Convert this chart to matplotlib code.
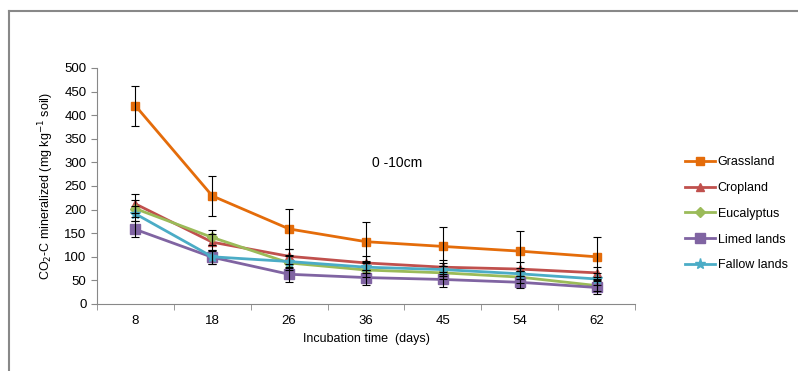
import numpy as np
import matplotlib.pyplot as plt
from matplotlib.lines import Line2D

plt.rcParams['font.family'] = ['Liberation Sans Narrow', 'Liberation Sans', 'DejaVu Sans']

# Datos
days = ["8", "18", "26", "36", "45", "54", "62"]
grassland = [420, 229, 159, 132, 122, 112, 100]
cropland = [212, 131, 101, 87, 78, 74, 66]
eucalyptus = [202, 141, 87, 72, 66, 57, 39]
limed = [158, 99, 63, 56, 52, 46, 35]
fallow = [191, 100, 90, 78, 73, 64, 53]

grassland_err = [42, 42, 42, 42, 42, 42, 42]
cropland_err = [20, 18, 16, 15, 15, 14, 13]
eucalyptus_err = [18, 16, 15, 14, 14, 13, 12]
limed_err = [17, 15, 16, 15, 15, 13, 13]
fallow_err = [16, 15, 14, 13, 13, 12, 12]

series = [
    ("Grassland", grassland, grassland_err, "#E46C0A", "s", 6),
    ("Cropland", cropland, cropland_err, "#C0504D", "^", 6),
    ("Eucalyptus", eucalyptus, eucalyptus_err, "#9BBB59", "D", 5),
    ("Limed lands", limed, limed_err, "#8064A2", "s", 7),
    ("Fallow lands", fallow, fallow_err, "#4BACC6", "*", 8),
]

fig = plt.figure(figsize=(7.98, 3.71), dpi=100)
ax = fig.add_axes([97 / 798, 67 / 371, 538 / 798, 236 / 371])

x = np.arange(len(days))
handles = []
for name, vals, err, color, marker, ms in series:
    ax.errorbar(x, vals, yerr=err, fmt="none", ecolor="black", elinewidth=0.8,
                capsize=3, capthick=0.8, zorder=3)
    ax.plot(x, vals, color=color, lw=2, marker=marker, ms=ms,
            markeredgecolor=color, zorder=2)
    handles.append(Line2D([0], [0], color=color, lw=2, marker=marker, ms=ms,
                          markeredgecolor=color, label=name))

ax.set_xlim(-0.5, len(days) - 0.5)
ax.set_ylim(0, 500)
ax.set_yticks(range(0, 501, 50))
ax.set_xticks(x)
ax.set_xticklabels(days)
ax.set_xticks(np.arange(-0.5, len(days), 1), minor=True)
ax.tick_params(axis="x", which="major", length=0, labelsize=9.5, pad=8)
ax.tick_params(axis="x", which="minor", length=4, color="#888888")
ax.tick_params(axis="y", length=4, color="#888888", labelsize=9.5)

for s in ["top", "right"]:
    ax.spines[s].set_visible(False)
for s in ["left", "bottom"]:
    ax.spines[s].set_color("#888888")

ax.set_xlabel("Incubation time  (days)", fontsize=9, labelpad=4)
ax.set_ylabel("CO$_2$-C mineralized (mg kg$^{-1}$ soil)", fontsize=9, labelpad=6)
ax.text(3.4, 298, "0 -10cm", fontsize=10, ha="center", va="center")

fig.legend(handles=handles, loc="upper left", bbox_to_anchor=(674 / 798, 1 - 145 / 371),
           frameon=False, fontsize=9, handlelength=2.4, handletextpad=0.2,
           labelspacing=1.1)

# Marco
fig.add_artist(Line2D([9 / 798, 1], [1 - 11 / 371, 1 - 11 / 371], color="#888888", lw=1.5))
fig.add_artist(Line2D([9 / 798, 9 / 798], [0, 1 - 11 / 371], color="#888888", lw=1.5))

fig.savefig("out.png", dpi=100)
